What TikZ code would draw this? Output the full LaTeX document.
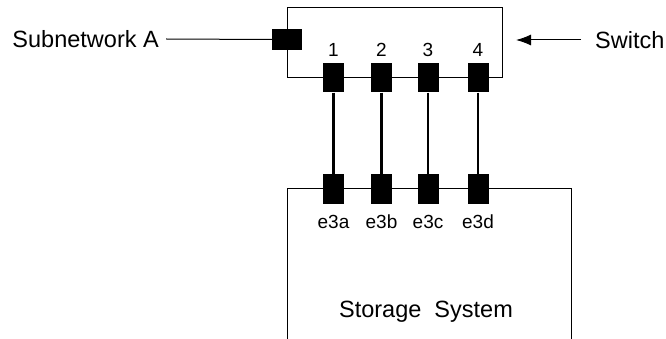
\documentclass[tikz,border=0pt]{standalone}
\usepackage{fontspec}
\setmainfont{Liberation Sans}
\usetikzlibrary{arrows.meta}
\begin{document}
\begin{tikzpicture}[x=1pt,y=-1pt,
  thin line/.style={line width=1pt},
  vport/.style={fill=black,draw=none,minimum width=21pt,minimum height=29pt,inner sep=0pt},
  hport/.style={fill=black,draw=none,minimum width=30pt,minimum height=21pt,inner sep=0pt},
  link/.style={line width=2.5pt},
  big/.style={font=\fontsize{23.5}{26}\selectfont,inner sep=0pt},
  small/.style={font=\fontsize{19}{22}\selectfont,inner sep=0pt}]
\useasboundingbox (0,0) rectangle (666,339);
% switch box
\node[draw,thin line,minimum width=215pt,minimum height=70pt,inner sep=0pt] (switch) at (394.5,43) {};
% storage box (open at bottom)
\coordinate (stl) at (287,345);
\coordinate (str) at (571,345);
\draw[thin line] (stl) |- (571,189) -- (str);
% subnetwork port
\node[hport] (pA) at (287,39.5) {};
\node[big,anchor=east] (subA) at (159,39) {Subnetwork A};
\draw[thin line] (subA.east) ++(7,0) coordinate (subAl) -- (pA.west);
% switch label
\node[big,anchor=west] (sw) at (595,40) {Switch};
\coordinate (swtail) at (581,40);
\coordinate (swtip) at (516,40);
\draw[thin line,-{Latex[length=15pt,width=11pt]}] (swtail) -- (swtip);
% ports
\foreach \i/\x/\lab/\n in {1/333.5/e3a/1,2/381.5/e3b/2,3/428/e3c/3,4/478/e3d/4}{
  \node[vport] (t\i) at (\x,78) {};
  \node[vport] (b\i) at (\x,189) {};
  \node[small] (n\i) at (\x,50) {\n};
  \node[small] (l\i) at (\x,222) {\lab};
  \draw[link] (t\i.south) -- (b\i.north);
}
\node[big] (stor) at (426,312) {Storage\ \ System};
\end{tikzpicture}
\end{document}
